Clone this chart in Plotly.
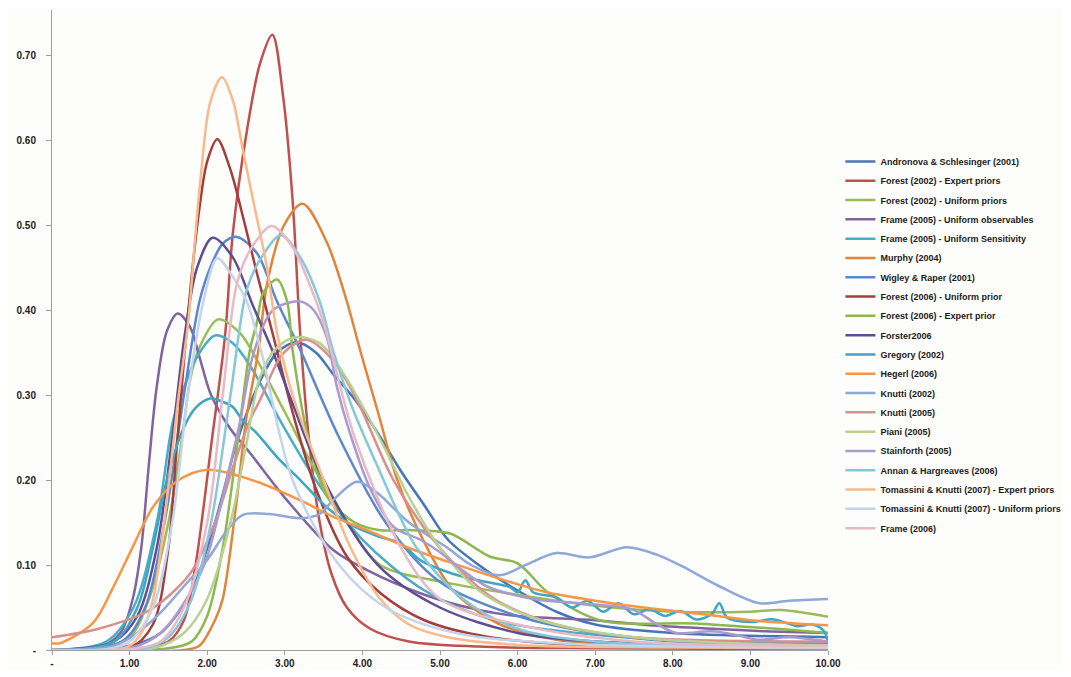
import plotly.graph_objects as go

# ---------------- data ----------------
andronova_x = [0, 1.0, 1.4, 1.8, 2.1, 2.4, 2.7, 2.9, 3.15, 3.4, 3.62, 3.9, 4.2, 4.5, 4.8, 5.1, 5.5, 6.0, 6.5, 7.0, 8.0, 10]
andronova_y = [0, 0.005, 0.02, 0.07, 0.15, 0.25, 0.32, 0.35, 0.362, 0.35, 0.325, 0.295, 0.255, 0.21, 0.17, 0.13, 0.1, 0.07, 0.045, 0.03, 0.02, 0.015]

forest2002e_x = [0, 1.0, 1.5, 1.7, 1.85, 2.06, 2.23, 2.33, 2.51, 2.68, 2.84, 2.98, 3.1, 3.2, 3.32, 3.45, 3.6, 3.8, 4.1, 4.6, 5.5, 7, 10]
forest2002e_y = [0, 0.001, 0.01, 0.035, 0.1, 0.247, 0.37, 0.49, 0.61, 0.69, 0.724, 0.65, 0.53, 0.37, 0.24, 0.15, 0.09, 0.05, 0.025, 0.01, 0.004, 0.002, 0.001]

forest2002u_x = [0, 0.5, 1.0, 1.25, 1.5, 1.69, 1.78, 1.9, 2.14, 2.42, 2.65, 3.0, 3.4, 3.8, 4.23, 5.1, 6.0, 7.0, 8.0, 9.0, 9.4, 10]
forest2002u_y = [0, 0.001, 0.015, 0.06, 0.15, 0.259, 0.318, 0.356, 0.389, 0.373, 0.34, 0.28, 0.21, 0.15, 0.1, 0.079, 0.065, 0.052, 0.045, 0.045, 0.047, 0.039]

frame2005o_x = [0, 0.6, 0.88, 1.04, 1.15, 1.25, 1.35, 1.48, 1.62, 1.78, 1.9, 2.05, 2.3, 2.55, 3.03, 3.62, 4.06, 4.8, 5.5, 6.0, 7.0, 7.7, 8.5, 9.2, 10]
frame2005o_y = [0, 0.003, 0.02, 0.06, 0.12, 0.22, 0.31, 0.375, 0.396, 0.38, 0.345, 0.3, 0.26, 0.232, 0.176, 0.118, 0.094, 0.065, 0.047, 0.04, 0.035, 0.029, 0.025, 0.022, 0.02]

frame2005s_x = [0, 0.7, 1.05, 1.35, 1.56, 1.69, 1.87, 2.1, 2.33, 2.59, 2.94, 3.4, 4.0, 4.8, 5.7, 7.0, 8.5, 10]
frame2005s_y = [0, 0.01, 0.05, 0.15, 0.27, 0.306, 0.345, 0.37, 0.361, 0.329, 0.27, 0.2, 0.13, 0.07, 0.035, 0.018, 0.01, 0.008]

murphy_x = [0, 1.7, 1.9, 2.1, 2.2, 2.38, 2.5, 2.66, 2.77, 2.98, 3.23, 3.54, 3.8, 3.97, 4.2, 4.45, 4.78, 5.17, 5.73, 6.5, 8, 10]
murphy_y = [0, 0, 0.005, 0.035, 0.06, 0.176, 0.27, 0.353, 0.43, 0.498, 0.525, 0.48, 0.41, 0.353, 0.28, 0.2, 0.13, 0.07, 0.032, 0.012, 0.004, 0.001]

wigley_x = [0, 0.9, 1.2, 1.45, 1.7, 1.9, 2.04, 2.2, 2.38, 2.64, 2.9, 3.2, 3.7, 4.3, 5.0, 6.0, 7.0, 8.0, 10]
wigley_y = [0, 0.01, 0.05, 0.15, 0.3, 0.41, 0.45, 0.478, 0.486, 0.467, 0.41, 0.353, 0.25, 0.15, 0.08, 0.04, 0.02, 0.01, 0.005]

forest2006u_x = [0, 1.0, 1.3, 1.5, 1.6, 1.7, 1.8, 1.9, 2.0, 2.13, 2.3, 2.46, 2.65, 2.85, 3.1, 3.4, 3.8, 4.23, 4.8, 5.64, 7, 10]
forest2006u_y = [0, 0.002, 0.03, 0.12, 0.23, 0.34, 0.44, 0.52, 0.575, 0.601, 0.565, 0.51, 0.44, 0.37, 0.28, 0.19, 0.11, 0.067, 0.035, 0.015, 0.005, 0.002]

forest2006e_x = [0, 1.5, 1.8, 2.0, 2.2, 2.4, 2.55, 2.64, 2.72, 2.9, 3.03, 3.1, 3.3, 3.55, 3.9, 4.23, 4.65, 5.13, 5.64, 6.0, 6.4, 7.06, 8.35, 10]
forest2006e_y = [0, 0.002, 0.01, 0.04, 0.12, 0.25, 0.353, 0.385, 0.42, 0.436, 0.41, 0.353, 0.25, 0.18, 0.15, 0.141, 0.141, 0.137, 0.11, 0.102, 0.067, 0.035, 0.031, 0.02]

forster_x = [0, 0.8, 1.1, 1.35, 1.55, 1.71, 1.87, 2.07, 2.33, 2.59, 2.85, 3.1, 3.5, 4.2, 5.0, 6.0, 7.0, 10]
forster_y = [0, 0.01, 0.04, 0.12, 0.25, 0.37, 0.45, 0.485, 0.462, 0.405, 0.35, 0.29, 0.2, 0.1, 0.05, 0.02, 0.01, 0.003]

gregory_x = [0, 0.8, 1.1, 1.3, 1.48, 1.69, 1.85, 2.04, 2.2, 2.33, 2.46, 2.64, 2.9, 3.2, 3.54, 3.9, 4.23, 4.5, 4.74, 5.0, 5.3, 5.6, 5.9, 6.0, 6.1, 6.2, 6.5, 6.7, 6.9, 7.1, 7.3, 7.5, 7.7, 7.9, 8.1, 8.3, 8.5, 8.6, 8.7, 9.0, 9.3, 9.6, 9.8, 9.95, 10]
gregory_y = [0, 0.01, 0.05, 0.12, 0.2, 0.26, 0.285, 0.296, 0.292, 0.286, 0.27, 0.255, 0.227, 0.2, 0.168, 0.145, 0.133, 0.125, 0.106, 0.095, 0.086, 0.08, 0.074, 0.068, 0.082, 0.068, 0.062, 0.05, 0.058, 0.045, 0.055, 0.042, 0.048, 0.04, 0.046, 0.036, 0.042, 0.055, 0.038, 0.033, 0.036, 0.028, 0.03, 0.022, 0.008]

hegerl_x = [0, 0.1, 0.53, 0.79, 1.04, 1.3, 1.6, 2.0, 2.64, 3.2, 3.62, 4.06, 4.6, 5.1, 5.94, 6.42, 7.0, 7.7, 8.5, 9.0, 10]
hegerl_y = [0.008, 0.008, 0.032, 0.074, 0.121, 0.168, 0.198, 0.212, 0.198, 0.176, 0.157, 0.141, 0.12, 0.104, 0.079, 0.067, 0.058, 0.049, 0.041, 0.035, 0.029]

knutti2002_x = [0, 0.8, 1.1, 1.43, 1.7, 2.0, 2.25, 2.46, 2.8, 3.2, 3.45, 3.62, 3.93, 4.19, 4.6, 5.1, 5.4, 5.77, 6.1, 6.5, 6.93, 7.41, 7.8, 8.13, 8.6, 9.12, 9.5, 10]
knutti2002_y = [0, 0.005, 0.02, 0.047, 0.075, 0.106, 0.14, 0.159, 0.16, 0.155, 0.16, 0.176, 0.198, 0.185, 0.15, 0.12, 0.1, 0.088, 0.1, 0.114, 0.109, 0.121, 0.112, 0.098, 0.075, 0.055, 0.058, 0.06]

knutti2005_x = [0, 0.6, 1.26, 1.78, 2.1, 2.35, 2.55, 2.68, 2.98, 3.28, 3.62, 3.93, 4.4, 5.0, 5.7, 6.5, 7.5, 10]
knutti2005_y = [0.015, 0.025, 0.047, 0.09, 0.15, 0.22, 0.27, 0.294, 0.349, 0.365, 0.341, 0.294, 0.2, 0.12, 0.06, 0.03, 0.015, 0.01]

piani_x = [0, 1.3, 1.7, 2.0, 2.3, 2.5, 2.68, 2.9, 3.15, 3.45, 3.75, 4.19, 4.6, 5.0, 5.5, 6.3, 7.5, 10]
piani_y = [0, 0.002, 0.02, 0.06, 0.15, 0.24, 0.321, 0.356, 0.368, 0.361, 0.326, 0.255, 0.18, 0.12, 0.07, 0.035, 0.015, 0.005]

stainforth_x = [0, 1.0, 1.4, 1.8, 2.0, 2.25, 2.42, 2.6, 2.85, 3.2, 3.37, 3.54, 3.67, 3.84, 4.1, 4.4, 4.74, 5.0, 5.2, 5.6, 6.2, 6.8, 7.2, 7.5, 7.8, 8.05, 8.5, 8.8, 9.1, 9.5, 10]
stainforth_y = [0, 0.002, 0.02, 0.07, 0.11, 0.2, 0.267, 0.35, 0.4, 0.41, 0.4, 0.368, 0.31, 0.255, 0.19, 0.145, 0.13, 0.115, 0.1, 0.075, 0.06, 0.055, 0.052, 0.047, 0.03, 0.02, 0.022, 0.018, 0.012, 0.015, 0.01]

annan_x = [0, 1.2, 1.5, 1.8, 2.05, 2.3, 2.51, 2.68, 2.95, 3.2, 3.45, 3.62, 3.85, 4.2, 4.7, 5.3, 6.0, 7.0, 10]
annan_y = [0, 0.002, 0.015, 0.06, 0.15, 0.3, 0.424, 0.459, 0.488, 0.462, 0.41, 0.353, 0.29, 0.215, 0.12, 0.06, 0.025, 0.01, 0.003]

tomassini_e_x = [0, 0.8, 1.0, 1.15, 1.3, 1.48, 1.62, 1.76, 1.84, 1.92, 2.04, 2.19, 2.33, 2.46, 2.59, 2.77, 2.9, 3.1, 3.5, 3.85, 4.23, 4.6, 5.1, 6.0, 8.0, 10]
tomassini_e_y = [0, 0.001, 0.005, 0.02, 0.059, 0.176, 0.29, 0.39, 0.48, 0.56, 0.645, 0.674, 0.647, 0.588, 0.53, 0.45, 0.373, 0.3, 0.2, 0.12, 0.06, 0.03, 0.015, 0.006, 0.003, 0.002]

tomassini_u_x = [0, 0.7, 1.0, 1.3, 1.55, 1.75, 1.95, 2.13, 2.33, 2.51, 2.7, 3.1, 3.7, 4.3, 5.2, 6.5, 10]
tomassini_u_y = [0, 0.001, 0.01, 0.05, 0.15, 0.3, 0.41, 0.461, 0.439, 0.41, 0.35, 0.2, 0.1, 0.05, 0.02, 0.008, 0.003]

frame2006_x = [0, 1.1, 1.4, 1.7, 2.0, 2.2, 2.38, 2.55, 2.83, 3.1, 3.32, 3.5, 3.9, 4.5, 5.0, 6.0, 7.5, 10]
frame2006_y = [0, 0.002, 0.01, 0.05, 0.15, 0.3, 0.43, 0.47, 0.499, 0.474, 0.43, 0.385, 0.25, 0.12, 0.06, 0.03, 0.01, 0.005]

series_names = [
    "Andronova & Schlesinger (2001)",
    "Forest (2002) - Expert priors",
    "Forest (2002) - Uniform priors",
    "Frame (2005) - Uniform observables",
    "Frame (2005) - Uniform Sensitivity",
    "Murphy (2004)",
    "Wigley & Raper (2001)",
    "Forest (2006) - Uniform prior",
    "Forest (2006) - Expert prior",
    "Forster2006",
    "Gregory (2002)",
    "Hegerl (2006)",
    "Knutti (2002)",
    "Knutti (2005)",
    "Piani (2005)",
    "Stainforth (2005)",
    "Annan & Hargreaves (2006)",
    "Tomassini & Knutti (2007) - Expert priors",
    "Tomassini & Knutti (2007) - Uniform priors",
    "Frame (2006)",
]
series_x = [andronova_x, forest2002e_x, forest2002u_x, frame2005o_x, frame2005s_x, murphy_x,
            wigley_x, forest2006u_x, forest2006e_x, forster_x, gregory_x, hegerl_x,
            knutti2002_x, knutti2005_x, piani_x, stainforth_x, annan_x, tomassini_e_x,
            tomassini_u_x, frame2006_x]
series_y = [andronova_y, forest2002e_y, forest2002u_y, frame2005o_y, frame2005s_y, murphy_y,
            wigley_y, forest2006u_y, forest2006e_y, forster_y, gregory_y, hegerl_y,
            knutti2002_y, knutti2005_y, piani_y, stainforth_y, annan_y, tomassini_e_y,
            tomassini_u_y, frame2006_y]

colors = ["#4675B8", "#C0504D", "#9BBB59", "#8064A2", "#4BACC6", "#E0853A",
          "#5B88CC", "#A33E3C", "#8CB84F", "#5E4D91", "#3FA6C2", "#F79646",
          "#8FA8D8", "#D98F8C", "#B9D190", "#AA9ACE", "#86C8DA", "#F9B98A",
          "#C4D4EA", "#E6BAC6"]

x_tickvals = [0, 1, 2, 3, 4, 5, 6, 7, 8, 9, 10]
x_ticktext = ["-", "1.00", "2.00", "3.00", "4.00", "5.00", "6.00", "7.00", "8.00", "9.00", "10.00"]
y_tickvals = [0, 0.1, 0.2, 0.3, 0.4, 0.5, 0.6, 0.7]
y_ticktext = ["-", "0.10", "0.20", "0.30", "0.40", "0.50", "0.60", "0.70"]

# ---------------- figure ----------------
fig = go.Figure()
for name, xs, ys, c in zip(series_names, series_x, series_y, colors):
    fig.add_trace(go.Scatter(
        x=xs, y=ys, name=name, mode="lines", legendgroup=name,
        line=dict(color=c, width=2.5, shape="spline", smoothing=0.9),
    ))

axis_color = "#A0A0A0"
font_family = "Liberation Sans, Arial, sans-serif"
fig.update_layout(
    width=1055, height=661,
    margin=dict(l=44, r=235, t=2, b=19, autoexpand=False),
    paper_bgcolor="#FDFDFB",
    plot_bgcolor="#FDFDFB",
    showlegend=True,
    legend=dict(
        x=1.016, xanchor="left", y=0.786, yanchor="top",
        font=dict(family=font_family, size=9, color="#1a1a1a", weight="bold"),
        bgcolor="rgba(0,0,0,0)", borderwidth=0,
        itemwidth=30, traceorder="grouped", tracegroupgap=0.3,
    ),
    font=dict(family=font_family, color="#222222"),
)
fig.update_xaxes(
    range=[0, 10], tickvals=x_tickvals, ticktext=x_ticktext,
    showgrid=False, zeroline=False, showline=True, linecolor=axis_color, linewidth=1,
    ticks="outside", ticklen=4, tickcolor=axis_color, automargin=False,
    tickfont=dict(family=font_family, size=10, color="#222222", weight="bold"),
)
fig.update_yaxes(
    range=[0, 0.753], tickvals=y_tickvals, ticktext=y_ticktext,
    showgrid=False, zeroline=False, showline=True, linecolor=axis_color, linewidth=1,
    ticks="outside", ticklen=5, tickcolor=axis_color, ticklabelstandoff=8, automargin=False,
    tickfont=dict(family=font_family, size=10, color="#222222", weight="bold"),
)

fig.write_html("out.html")
